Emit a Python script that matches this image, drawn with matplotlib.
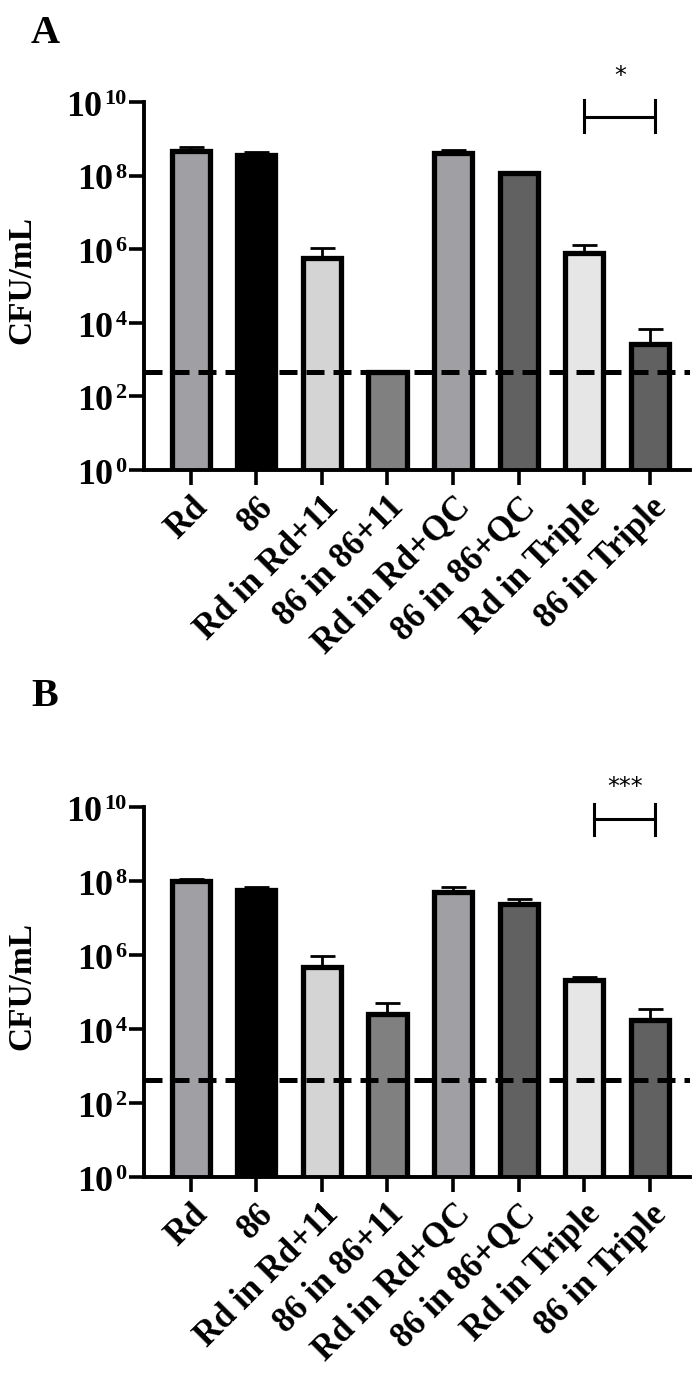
import matplotlib
matplotlib.use("Agg")
import matplotlib.pyplot as plt
import matplotlib.transforms as mtransforms
import numpy as np

# strains / conditions on the x axis
labels = ["Rd", "86", "Rd in Rd+11", "86 in 86+11", "Rd in Rd+QC",
          "86 in 86+QC", "Rd in Triple", "86 in Triple"]
colors = ["#a09fa4", "#000000", "#d4d4d4", "#808080", "#a09fa4",
          "#616161", "#e6e6e6", "#616161"]

# panel A: mean CFU/mL and upper end of error bar
a_mean = [4.7e8, 3.6e8, 5.6e5, 4.5e2, 4.2e8, 1.15e8, 8.0e5, 2.6e3]
a_top = [5.9e8, 4.4e8, 1.1e6, 4.7e2, 5.0e8, 1.26e8, 1.3e6, 6.6e3]
a_lod = 470

# panel B
b_mean = [1.0e8, 5.6e7, 4.8e5, 2.6e4, 5.2e7, 2.4e7, 2.1e5, 1.7e4]
b_top = [1.15e8, 6.9e7, 9.2e5, 4.9e4, 6.9e7, 3.2e7, 2.6e5, 3.4e4]
b_lod = 430

exponents = [0, 2, 4, 6, 8, 10]

plt.rcParams['font.family'] = ['Liberation Serif', 'DejaVu Serif']
plt.rcParams['font.weight'] = 'bold'

W, H = 700, 1377
fig = plt.figure(figsize=(W / 100, H / 100), dpi=100)

MAIN_FS = 26
SUP_FS = 16


def panel(rect, means, tops, lod, bracket, stars, letter, letter_y):
    ax = fig.add_axes(rect)
    x = np.arange(len(labels))
    means = np.array(means)
    up = np.array(tops) - means
    ax.bar(x, means, width=0.58, color=colors, edgecolor='black',
           linewidth=3.8, zorder=2)
    ax.errorbar(x, means, yerr=[np.zeros_like(up), up], fmt='none',
                ecolor='black', elinewidth=2, capsize=9, capthick=2, zorder=1)
    ax.set_yscale('log')
    ax.set_ylim(1, 1e10)
    ax.set_xlim(-0.71, 7.61)
    ax.axhline(lod, color='black', lw=3.6, dashes=(3.6, 1.8), zorder=5)

    ax.set_yticks([10.0 ** k for k in exponents])
    ax.set_yticklabels([''] * len(exponents))
    ax.minorticks_off()
    ax.set_xticks(x)
    ax.set_xticklabels(labels, rotation=45, ha='right',
                       rotation_mode='anchor', fontsize=25, fontweight='bold')
    ax.tick_params(axis='x', width=2.6, length=11, pad=4)
    ax.tick_params(axis='y', width=2.6, length=10.5, pad=1)
    for s in ['top', 'right']:
        ax.spines[s].set_visible(False)
    for s in ['left', 'bottom']:
        ax.spines[s].set_linewidth(2.8)
    ax.set_ylabel('CFU/mL', fontsize=24, fontweight='bold')
    ax.yaxis.set_label_coords(-0.195, 0.515)

    # y tick labels as "10" with a small raised exponent
    base = ax.get_yaxis_transform()
    right = -12.5  # points left of the axis
    digit_w = 0.5 * SUP_FS
    for k in exponents:
        e = str(k)
        we = len(e) * digit_w
        t_sup = mtransforms.offset_copy(base, fig=fig, x=right, y=-1.5,
                                        units='points')
        ax.text(0, 10.0 ** k, e, transform=t_sup, ha='right',
                va='baseline', fontsize=SUP_FS, fontweight='bold')
        t_main = mtransforms.offset_copy(base, fig=fig, x=right - we - 1.5,
                                         y=-10, units='points')
        ax.text(0, 10.0 ** k, '10', transform=t_main, ha='right',
                va='baseline', fontsize=MAIN_FS, fontweight='bold')

    # significance bracket
    x0, x1, yb, ylo, yhi, ys = bracket
    ax.plot([x0, x1], [yb, yb], color='black', lw=2.2, clip_on=False)
    ax.plot([x0, x0], [ylo, yhi], color='black', lw=2.2, clip_on=False)
    ax.plot([x1, x1], [ylo, yhi], color='black', lw=2.2, clip_on=False)
    ax.text((x0 + x1) / 2, ys, stars, ha='center', va='center',
            fontsize=17, family='DejaVu Sans', fontweight='normal')

    fig.text(31 / W, 1 - letter_y / H, letter, fontsize=29,
             fontweight='bold', va='top', ha='left')
    return ax


left = 144 / W
width = (690 - 144) / W
panel([left, 1 - 470 / H, width, (470 - 102) / H], a_mean, a_top, a_lod,
      (6.0, 7.08, 10 ** 9.59, 10 ** 9.18, 10 ** 10.05, 10 ** 10.71), '*', 'A', 15)
panel([left, 1 - 1177 / H, width, (1177 - 807) / H], b_mean, b_top, b_lod,
      (6.15, 7.08, 10 ** 9.67, 10 ** 9.24, 10 ** 10.08, 10 ** 10.55), '***', 'B', 678)

fig.savefig('out.png', dpi=100)
